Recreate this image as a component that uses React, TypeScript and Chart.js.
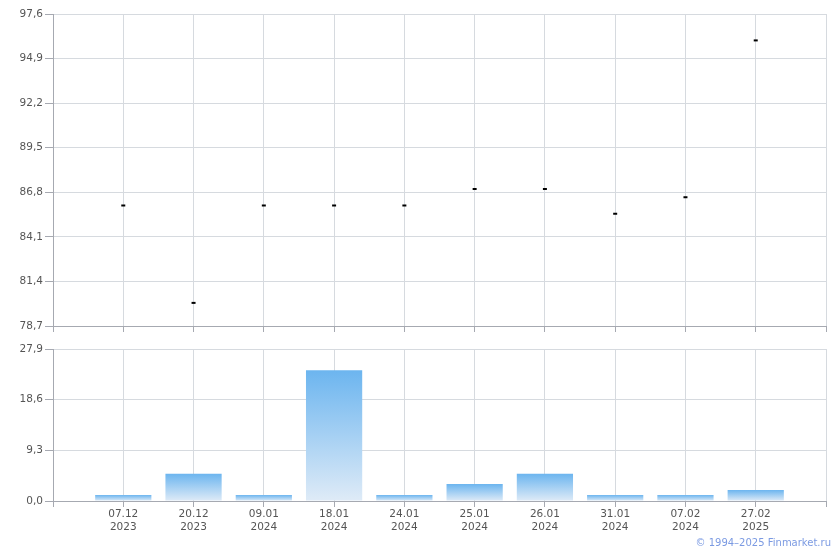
import React, { useEffect, useRef } from "react";
import { Chart, registerables } from "chart.js";

Chart.register(...registerables);

const dates = ["07.12", "20.12", "09.01", "18.01", "24.01", "25.01", "26.01", "31.01", "07.02", "27.02"];
const years = ["2023", "2023", "2024", "2024", "2024", "2024", "2024", "2024", "2024", "2025"];
const prices = [86.0, 80.1, 86.0, 86.0, 86.0, 87.0, 87.0, 85.5, 86.5, 96.0];
const volumes = [1.1, 5.0, 1.1, 24.0, 1.1, 3.1, 5.0, 1.1, 1.1, 2.0];
const priceTicks = [78.7, 81.4, 84.1, 86.8, 89.5, 92.2, 94.9, 97.6];
const volumeTicks = [0, 9.3, 18.6, 27.9];

const FONT = "DejaVu Sans";
const GRID = "#d6dadf";
const AXIS = "#a6a9b1";
const TEXT = "#555555";

const fmt = (v: number) => v.toFixed(1).replace(".", ",");

function xScale(showLabels: boolean, height: number) {
  return {
    type: "linear" as const,
    min: 0,
    max: dates.length + 1,
    offset: false,
    afterBuildTicks: (s: any) => {
      const t = [];
      for (let i = 0; i <= dates.length + 1; i++) t.push({ value: i });
      s.ticks = t;
    },
    afterFit: (s: any) => {
      s.height = height;
    },
    grid: { color: GRID, tickLength: 6, tickColor: AXIS, offset: false, drawTicks: true },
    border: { color: AXIS },
    ticks: {
      display: showLabels,
      autoSkip: false,
      maxRotation: 0,
      padding: 1,
      color: TEXT,
      font: { family: FONT, size: 10.5, lineHeight: 1.25 },
      callback: (v: any) => {
        const i = Math.round(v) - 1;
        if (i < 0 || i >= dates.length) return "";
        return [dates[i], years[i]];
      },
    },
  };
}

function yScale(ticks: number[]) {
  return {
    min: ticks[0],
    max: ticks[ticks.length - 1],
    afterBuildTicks: (s: any) => {
      s.ticks = ticks.map((v) => ({ value: v }));
    },
    afterFit: (s: any) => {
      s.width = 53;
    },
    grid: { color: GRID, tickLength: 8, tickColor: AXIS },
    border: { color: AXIS },
    ticks: {
      padding: 2,
      color: TEXT,
      font: { family: FONT, size: 10.5 },
      callback: (v: any) => fmt(Number(v)),
    },
  };
}

export default function App() {
  const topRef = useRef<HTMLCanvasElement>(null);
  const botRef = useRef<HTMLCanvasElement>(null);

  useEffect(() => {
    Chart.defaults.font.family = FONT;
    const top = new Chart(topRef.current!, {
      type: "scatter",
      data: {
        datasets: [
          {
            data: prices.map((p, i) => ({ x: i + 1, y: p })),
            pointStyle: "line",
            pointRadius: 2,
            pointBorderWidth: 2,
            borderColor: "#000000",
            backgroundColor: "#000000",
            showLine: false,
          },
        ],
      },
      options: {
        animation: false,
        responsive: false,
        devicePixelRatio: 1,
        layout: { padding: { top: 14, right: 14, left: 0, bottom: 0 } },
        plugins: { legend: { display: false }, tooltip: { enabled: false } },
        scales: { x: xScale(false, 14) as any, y: yScale(priceTicks) as any },
      },
    });

    const bot = new Chart(botRef.current!, {
      type: "bar",
      data: {
        datasets: [
          {
            data: volumes.map((v, i) => ({ x: i + 1, y: v })) as any,
            categoryPercentage: 0.8,
            barPercentage: 1,
            borderWidth: 0,
            backgroundColor: (ctx: any) => {
              const chart = ctx.chart;
              const ys = chart.scales && chart.scales.y;
              if (!ys || !ctx.parsed || !chart.chartArea) return "#8cc4f2";
              const yTop = ys.getPixelForValue(ctx.parsed.y);
              const yBase = ys.getPixelForValue(0);
              if (!isFinite(yTop) || !isFinite(yBase) || yTop === yBase) return "#8cc4f2";
              const g = chart.ctx.createLinearGradient(0, yTop, 0, yBase);
              g.addColorStop(0, "#6cb5ef");
              g.addColorStop(1, "#dfebf7");
              return g;
            },
          },
        ],
      },
      options: {
        animation: false,
        responsive: false,
        devicePixelRatio: 1,
        layout: { padding: { top: 9, right: 14, left: 0, bottom: 0 } },
        plugins: { legend: { display: false }, tooltip: { enabled: false } },
        scales: { x: xScale(true, 49) as any, y: yScale(volumeTicks) as any },
      },
    });

    return () => {
      top.destroy();
      bot.destroy();
    };
  }, []);

  return (
    <div style={{ position: "absolute", left: 0, top: 0, width: 840, height: 550, background: "#fff", overflow: "hidden" }}>
      <canvas ref={topRef} width={840} height={340} style={{ position: "absolute", left: 0, top: 0, width: 840, height: 340 }} />
      <canvas ref={botRef} width={840} height={210} style={{ position: "absolute", left: 0, top: 340, width: 840, height: 210 }} />
      <div
        style={{
          position: "absolute",
          right: 9,
          top: 536,
          fontFamily: FONT,
          fontSize: 10,
          color: "#7b9ae2",
          whiteSpace: "nowrap",
          lineHeight: "13px",
        }}
      >
        © 1994–2025 Finmarket.ru
      </div>
    </div>
  );
}
